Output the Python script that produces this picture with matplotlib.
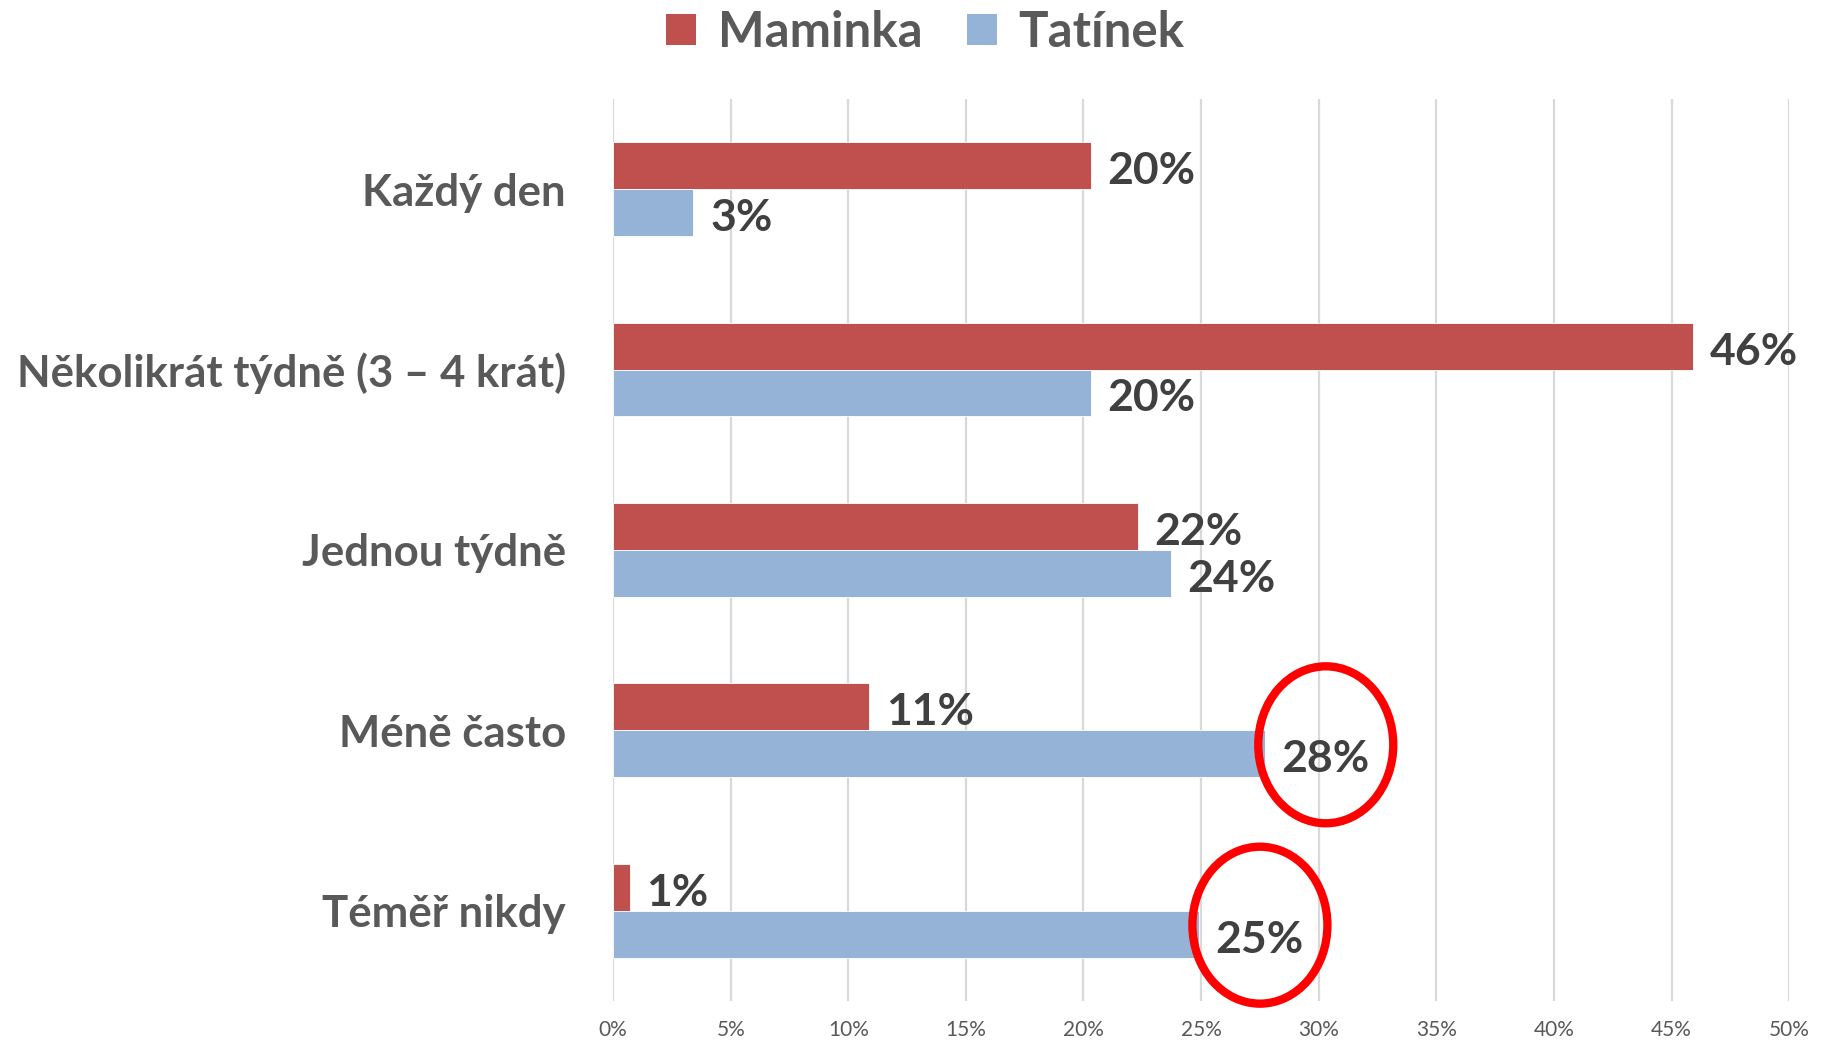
import matplotlib
matplotlib.use('Agg')
import matplotlib.pyplot as plt
from matplotlib.patches import Ellipse, Patch
import numpy as np

# data
categories = ["Každý den", "Několikrát týdně (3 – 4 krát)", "Jednou týdně",
              "Méně často", "Téměř nikdy"]
maminka = [20.3, 45.9, 22.3, 10.9, 0.7]
tatinek = [3.4, 20.3, 23.7, 27.7, 24.9]
series_names = ["Maminka", "Tatínek"]
x_ticks = [0, 5, 10, 15, 20, 25, 30, 35, 40, 45, 50]
highlighted = [3, 4]   # Tatínek labels that get a red ring

RED = '#C0504D'
BLUE = '#95B3D7'
FONT = 'Lato'

fig = plt.figure(figsize=(18.29, 10.42), dpi=100)
ax = fig.add_axes([0.3352, 0.0394, 0.6430, 0.8656])

y = np.arange(len(categories))
h = 0.26
ax.barh(y - h / 2, maminka, height=h, color=RED, edgecolor='white', linewidth=0.6, zorder=3)
ax.barh(y + h / 2, tatinek, height=h, color=BLUE, edgecolor='white', linewidth=0.6, zorder=3)

ax.set_xlim(0, 50)
ax.set_ylim(len(categories) - 0.5, -0.5)
ax.set_xticks(x_ticks)
ax.set_xticklabels([f"{t}%" for t in x_ticks], fontsize=15, color='#595959', family=FONT)
ax.set_yticks(y)
ax.set_yticklabels(categories, fontsize=31.5, fontweight='bold', color='#595959', family=FONT)
ax.tick_params(axis='y', length=0, pad=34)
ax.tick_params(axis='x', length=0, pad=14)
ax.grid(axis='x', color='#D9D9D9', linewidth=1.6, zorder=0)
for s in ax.spines.values():
    s.set_visible(False)

# value labels
dy = 0.03
for i, v in enumerate(maminka):
    ax.text(v + 0.72, i - h / 2 + dy, f"{round(v)}%", va='center', ha='left', fontsize=32,
            fontweight='bold', color='#404040', family=FONT, zorder=4)
for i, v in enumerate(tatinek):
    ax.text(v + 0.72, i + h / 2 + dy, f"{round(v)}%", va='center', ha='left', fontsize=32,
            fontweight='bold', color='#404040', family=FONT, zorder=4)

# red rings around the Tatínek labels
for i in highlighted:
    ax.add_patch(Ellipse((tatinek[i] + 2.6, i + h / 2 - 0.05), width=5.74, height=0.87,
                         fill=False, edgecolor='#FF0000', linewidth=6, zorder=5,
                         clip_on=False))

handles = [Patch(facecolor=RED), Patch(facecolor=BLUE)]
fig.legend(handles, series_names, loc='center', bbox_to_anchor=(0.506, 0.969), ncol=2,
           frameon=False, handlelength=0.6, handleheight=0.6, handletextpad=0.45,
           columnspacing=0.9, prop={'family': FONT, 'weight': 'bold', 'size': 35.5},
           labelcolor='#595959')

fig.savefig('out.png', dpi=100)
